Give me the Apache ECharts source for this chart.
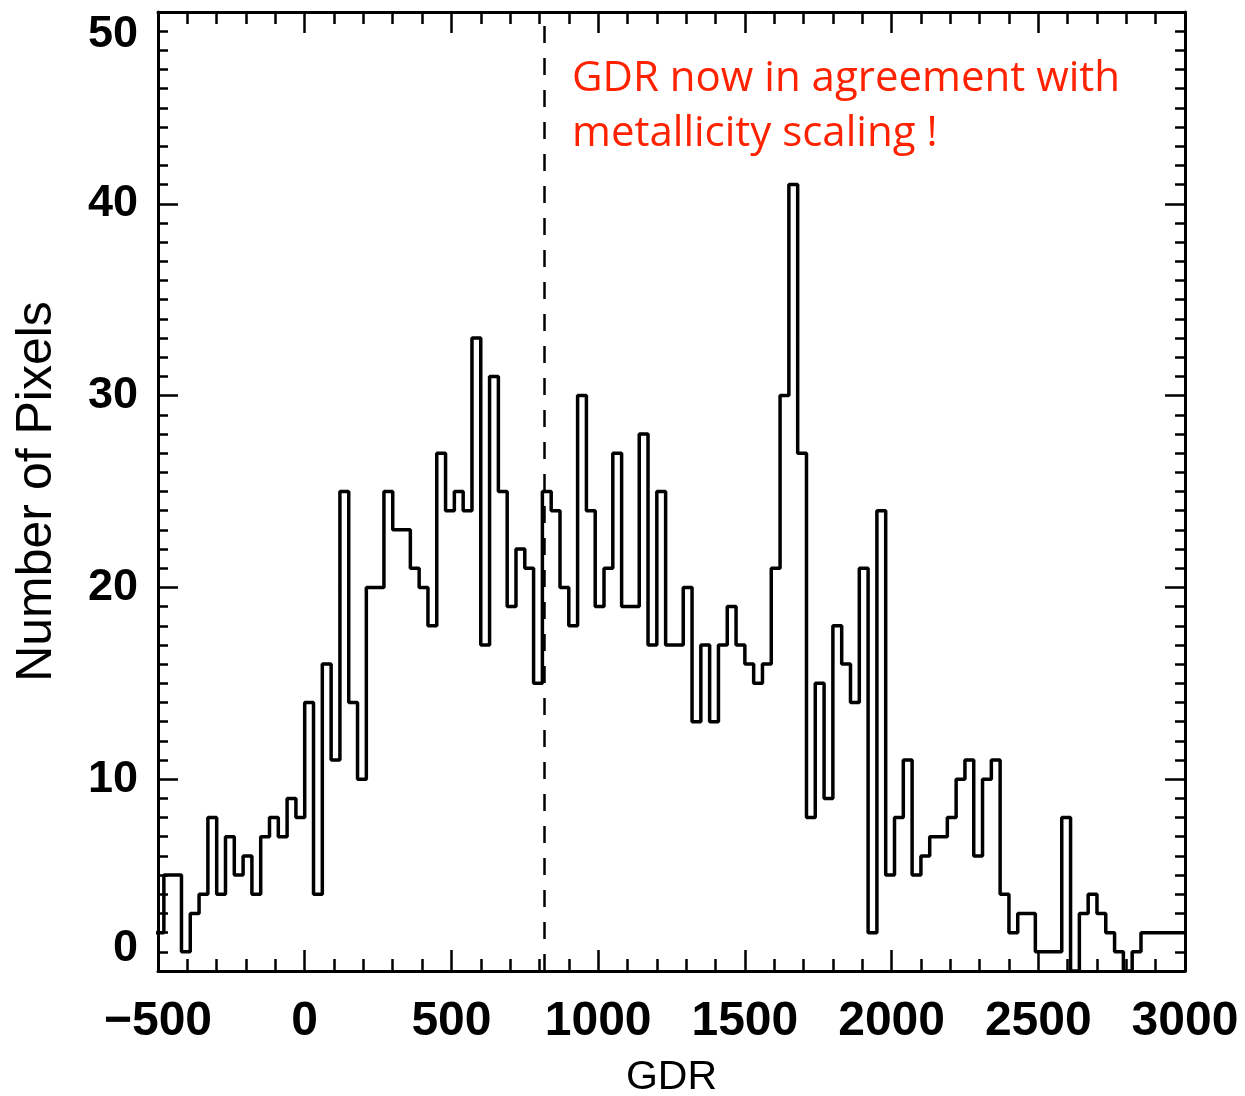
<!DOCTYPE html>
<html>
<head>
<meta charset="utf-8">
<title>GDR histogram</title>
<script src="https://cdn.jsdelivr.net/npm/echarts@6/dist/echarts.min.js"></script>
<style>
  html, body { margin: 0; padding: 0; background: #ffffff; }
  #chart { width: 1245px; height: 1096px; }
</style>
</head>
<body>
<div id="chart"></div>
<script>
// Histogram of gas-to-dust ratio per pixel: bins of 30 starting at -510
const binWidth = 30;
const firstEdge = -510;
const counts = [
  2, 5, 5, 1, 3, 4, 8, 4, 7, 5, 6, 4, 7, 8, 7, 9, 8,          // -510 .. -30
  14, 4, 16, 11, 25, 14, 10, 20, 20, 25, 23, 23, 21, 20, 18, 27, 24,  // 0 .. 480
  25, 24, 33, 17, 31, 25, 19, 22, 21, 15, 25, 24, 20, 18, 30, 24, 19, // 510 .. 990
  21, 27, 19, 19, 28, 17, 25, 17, 17, 20, 13, 17, 13, 17, 19, 17, 16, // 1020 .. 1500
  15, 16, 21, 30, 41, 27, 8, 15, 9, 18, 16, 14, 21, 2, 24, 5,         // 1530 .. 1980
  8, 11, 5, 6, 7, 7, 8, 10, 11, 6, 10, 11, 4, 2, 3, 3, 1,             // 2010 .. 2490
  1, 1, 8, 0, 3, 4, 3, 2, 1, 0, 1, 2, 2, 2, 2, 2                       // 2520 .. 2970
];

// Axis ranges and tick labels
const xRange = [-500, 3000];
const xStep = 500;
const yRange = [0, 50];
const yStep = 10;
const dividerGDR = 815;   // dashed reference line

const xTitle = 'GDR';
const yTitle = 'Number of Pixels';
const note = ['GDR now in agreement with', 'metallicity scaling !'];

// Step outline: each point is a bin's left edge; a final point closes the last bin
const stepPoints = counts.map((c, i) => [firstEdge + i * binWidth, c]);
stepPoints.push([firstEdge + counts.length * binWidth, counts[counts.length - 1]]);

const ink = '#000000';
const labelFont = '"Liberation Sans", Arial, sans-serif';

function xAxisDef(pos, withLabels) {
  return {
    type: 'value',
    position: pos,
    min: xRange[0], max: xRange[1], interval: xStep,
    axisLine: { show: true, onZero: false, lineStyle: { color: ink, width: 3 } },
    axisTick: { show: true, inside: true, length: 21, lineStyle: { color: ink, width: 2.5 } },
    minorTick: { show: true, splitNumber: 5, length: 12, lineStyle: { color: ink, width: 2.5 } },
    splitLine: { show: false },
    minorSplitLine: { show: false },
    axisLabel: {
      show: withLabels, color: ink, fontFamily: labelFont, fontSize: 48, fontWeight: 'bold', margin: 27,
      formatter: v => (v < 0 ? '\u2212' + Math.abs(v) : String(v))
    },
    name: withLabels ? xTitle : '',
    nameLocation: 'middle', nameGap: 86,
    nameTextStyle: { color: ink, fontFamily: labelFont, fontSize: 41 }
  };
}

function yAxisDef(pos, withLabels) {
  return {
    type: 'value',
    position: pos,
    min: yRange[0], max: yRange[1], interval: yStep,
    axisLine: { show: true, onZero: false, lineStyle: { color: ink, width: 3 } },
    axisTick: { show: true, inside: true, length: 20, lineStyle: { color: ink, width: 2.5 } },
    minorTick: { show: true, splitNumber: 10, length: 10, lineStyle: { color: ink, width: 2.5 } },
    splitLine: { show: false },
    minorSplitLine: { show: false },
    axisLabel: {
      show: withLabels, color: ink, fontFamily: labelFont, fontSize: 45, fontWeight: 'bold', margin: 20,
      verticalAlignMinLabel: 'bottom', verticalAlignMaxLabel: 'top'
    },
    name: withLabels ? yTitle : '',
    nameLocation: 'middle', nameGap: 96, nameRotate: 90,
    nameTextStyle: { color: ink, fontFamily: labelFont, fontSize: 50 }
  };
}

const chart = echarts.init(document.getElementById('chart'), null, { renderer: 'canvas' });
chart.setOption({
  backgroundColor: '#ffffff',
  animation: false,
  grid: { left: 158, right: 60, top: 12, bottom: 125, containLabel: false, outerBoundsMode: 'none' },
  xAxis: [xAxisDef('bottom', true), xAxisDef('top', false)],
  yAxis: [yAxisDef('left', true), yAxisDef('right', false)],
  series: [{
    type: 'line',
    step: 'end',
    data: stepPoints,
    showSymbol: false,
    clip: true,
    lineStyle: { color: ink, width: 3.5 },
    markLine: {
      silent: true,
      symbol: 'none',
      label: { show: false },
      lineStyle: { color: ink, width: 2.5, type: [17, 15] },
      data: [{ xAxis: dividerGDR }]
    }
  }],
  graphic: [{
    type: 'text',
    left: 572,
    top: 52,
    style: {
      text: note.join('\n'),
      fill: '#ff2200',
      fontFamily: '"Open Sans", sans-serif',
      fontSize: 42,
      lineHeight: 55
    }
  }]
});
</script>
</body>
</html>
